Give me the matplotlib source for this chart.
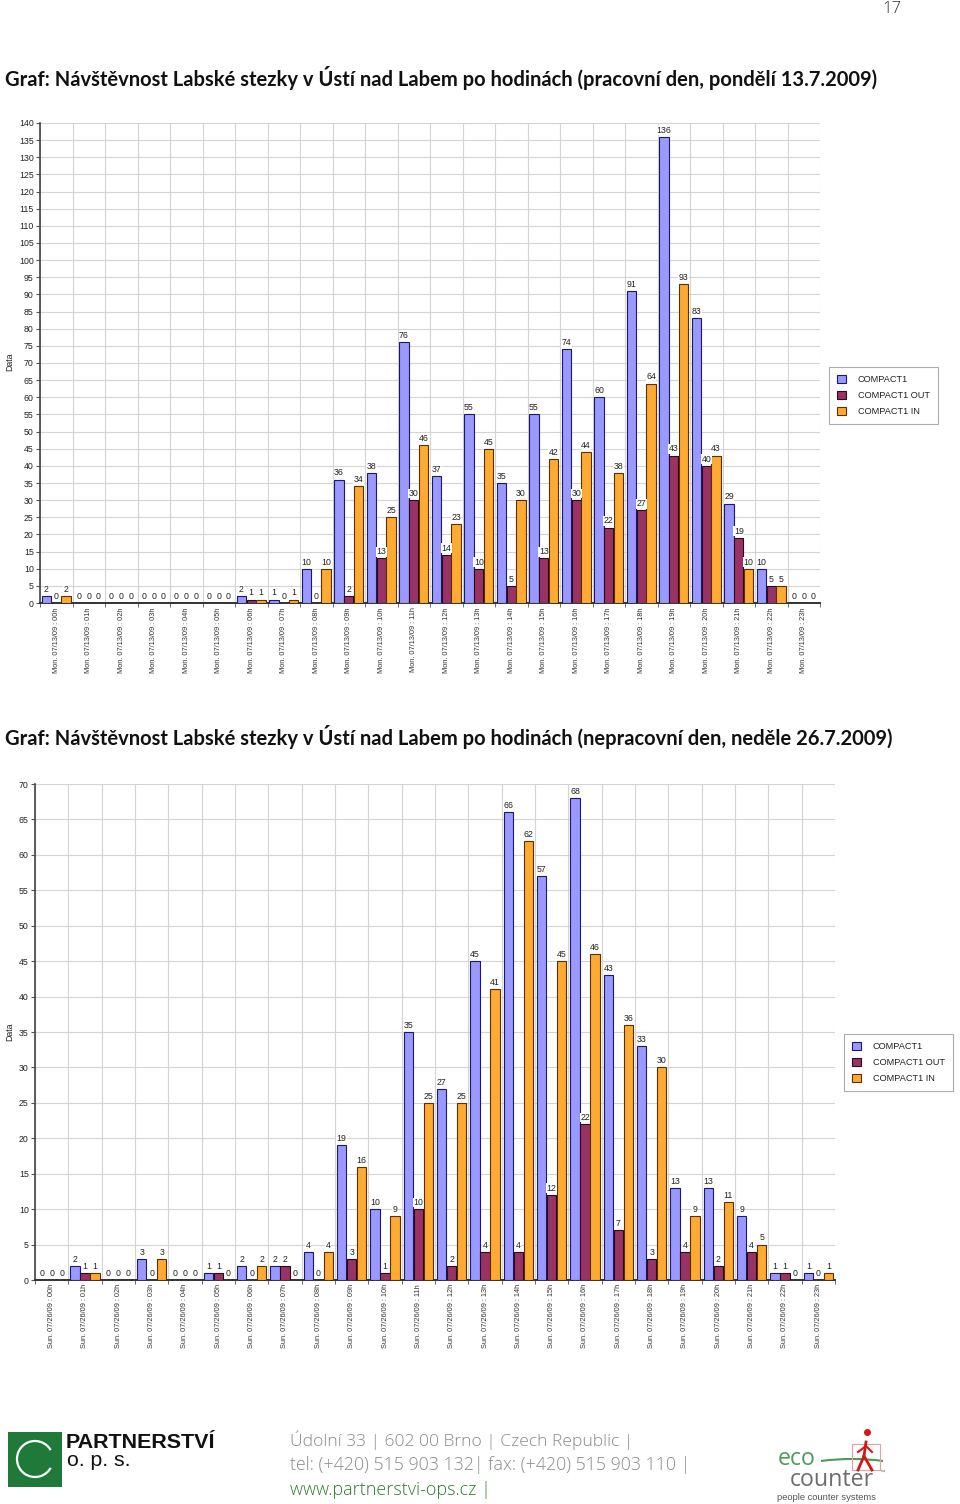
import matplotlib
matplotlib.use("Agg")
import matplotlib.pyplot as plt
from matplotlib.patches import Rectangle, Patch, Arc
from matplotlib.lines import Line2D
from matplotlib import font_manager
import numpy as np

W, H = 960, 1504

# --- data (COMPACT1 = total, OUT, IN) ---
hours = list(range(24))
mon_labels = ["Mon. 07/13/09 : %02dh" % h for h in hours]
sun_labels = ["Sun. 07/26/09 : %02dh" % h for h in hours]

mon_total = [2, 0, 0, 0, 0, 0, 2, 1, 10, 36, 38, 76, 37, 55, 35, 55, 74, 60, 91, 136, 83, 29, 10, 0]
mon_out = [0, 0, 0, 0, 0, 0, 1, 0, 0, 2, 13, 30, 14, 10, 5, 13, 30, 22, 27, 43, 40, 19, 5, 0]
mon_in = [2, 0, 0, 0, 0, 0, 1, 1, 10, 34, 25, 46, 23, 45, 30, 42, 44, 38, 64, 93, 43, 10, 5, 0]

sun_total = [0, 2, 0, 3, 0, 1, 2, 2, 4, 19, 10, 35, 27, 45, 66, 57, 68, 43, 33, 13, 13, 9, 1, 1]
sun_out = [0, 1, 0, 0, 0, 1, 0, 2, 0, 3, 1, 10, 2, 4, 4, 12, 22, 7, 3, 4, 2, 4, 1, 0]
sun_in = [0, 1, 0, 3, 0, 0, 2, 0, 4, 16, 9, 25, 25, 41, 62, 45, 46, 36, 30, 9, 11, 5, 0, 1]

series_names = ["COMPACT1", "COMPACT1 OUT", "COMPACT1 IN"]
title_mon = "Graf: Návštěvnost Labské stezky v Ústí nad Labem po hodinách (pracovní den, pondělí 13.7.2009)"
title_sun = "Graf: Návštěvnost Labské stezky v Ústí nad Labem po hodinách (nepracovní den, neděle 26.7.2009)"

colors = ["#9999ff", "#993366", "#ffaa33"]
edges = ["#1a1a66", "#2a0a18", "#5a3000"]

names = {f.name for f in font_manager.fontManager.ttflist}
chart_font = "Liberation Sans" if "Liberation Sans" in names else "DejaVu Sans"
title_font = "Lato" if "Lato" in names else "DejaVu Sans"
foot_font = "Open Sans" if "Open Sans" in names else "DejaVu Sans"
narrow_font = "Liberation Sans Narrow" if "Liberation Sans Narrow" in names else chart_font

plt.rcParams["font.family"] = [chart_font, "DejaVu Sans"]

fig = plt.figure(figsize=(W / 100, H / 100), dpi=100)
fig.patch.set_facecolor("white")


def fx(px):
    return px / W


def fy(py):
    return 1 - py / H


def draw_chart(ax, labels, series, ymax):
    x = np.arange(len(labels))
    label_pos = []
    for k, vals in enumerate(series):
        xs = x + (k - 1) * 0.3
        ax.bar(xs, vals, width=0.28, color=colors[k], edgecolor=edges[k],
               linewidth=0.8, zorder=3)
        label_pos.append((xs, vals))
    for xs, vals in label_pos:
        for xi, v in zip(xs, vals):
            ax.annotate(str(v), (xi, v), xytext=(0, 1.5), textcoords="offset points",
                        ha="center", va="bottom", fontsize=6.3, color="#222",
                        bbox=dict(facecolor="white", edgecolor="none", pad=0.3),
                        zorder=5, annotation_clip=False)
    ax.set_xlim(-0.5, len(labels) - 0.5)
    ax.set_ylim(0, ymax)
    ax.set_yticks(range(0, ymax + 1, 5))
    ax.set_xticks(x)
    ax.set_xticklabels(labels, rotation=90, fontsize=5.3, color="#333",
                       family=narrow_font)
    ax.set_xticks(np.arange(-0.5, len(labels), 1), minor=True)
    ax.tick_params(axis="x", which="major", length=0, pad=3)
    ax.tick_params(axis="x", which="minor", length=3, color="#555")
    ax.tick_params(axis="y", length=3, labelsize=6.3, color="#555", labelcolor="#222", pad=1.5)
    ax.grid(axis="y", which="major", color="#d4d4d4", linewidth=0.8, zorder=0)
    ax.grid(axis="x", which="minor", color="#d4d4d4", linewidth=0.8, zorder=0)
    for s in ("top", "right"):
        ax.spines[s].set_visible(False)
    ax.spines["left"].set_color("#444")
    ax.spines["bottom"].set_color("#333")
    ax.spines["left"].set_linewidth(1.2)
    ax.spines["bottom"].set_linewidth(1.4)
    ax.set_axisbelow(True)


def add_legend(left_px, top_px):
    handles = [Patch(facecolor=colors[k], edgecolor=edges[k], linewidth=0.8)
               for k in range(3)]
    leg = fig.legend(handles, series_names, loc="upper left",
                     bbox_to_anchor=(fx(left_px), fy(top_px)), frameon=True,
                     fancybox=False, edgecolor="#999", fontsize=6.6,
                     handlelength=1.0, handleheight=1.0, handletextpad=1.3,
                     labelspacing=0.75, borderpad=0.85, borderaxespad=0)
    leg.get_frame().set_linewidth(0.8)
    for t in leg.get_texts():
        t.set_color("#222")


ax1 = fig.add_axes([fx(40), fy(603), fx(780), 480 / H])
draw_chart(ax1, mon_labels, [mon_total, mon_out, mon_in], 140)
ax2 = fig.add_axes([fx(35), fy(1280), fx(800), 496 / H])
draw_chart(ax2, sun_labels, [sun_total, sun_out, sun_in], 70)

fig.text(fx(10), fy(362), "Data", rotation=90, fontsize=6.3, ha="center", va="center", color="#222")
fig.text(fx(10), fy(1032), "Data", rotation=90, fontsize=6.3, ha="center", va="center", color="#222")

add_legend(829, 367)
add_legend(844, 1034)

renderer = fig.canvas.get_renderer()


def fit(t, width_px):
    w = t.get_window_extent(renderer).width
    t.set_fontsize(t.get_fontsize() * width_px / w)


t1 = fig.text(fx(5), fy(78), title_mon, fontsize=14, fontweight="bold",
              family=[title_font, "DejaVu Sans"], va="center", color="#111")
fit(t1, 877)
t2 = fig.text(fx(5), fy(737), title_sun, fontsize=14, fontweight="bold",
              family=[title_font, "DejaVu Sans"], va="center", color="#111")
fit(t2, 893)

fig.text(fx(892), fy(9), "17", fontsize=12, family=[foot_font, "DejaVu Sans"],
         fontweight="light", ha="center", va="center", color="#333")

# --- footer ---
fig.add_artist(Rectangle((fx(8), fy(1487)), fx(54), 55 / H, transform=fig.transFigure,
                         facecolor="#1f7a3a", edgecolor="none"))
fig.add_artist(Arc((fx(35), fy(1459)), fx(36), 36 / H, theta1=20, theta2=340,
                   transform=fig.transFigure, color="white", linewidth=1.6))
p1 = fig.text(fx(66), fy(1442), "PARTNERSTVÍ", fontsize=20, fontweight="bold",
              family=[narrow_font, "DejaVu Sans"], va="center", color="#111")
fit(p1, 150)
p2 = fig.text(fx(67), fy(1461), "o. p. s.", fontsize=14, family=[chart_font, "DejaVu Sans"],
              va="center", color="#111")
fit(p2, 64)

a1 = fig.text(fx(290), fy(1440), "Údolní 33 | 602 00 Brno | Czech Republic |", fontsize=12,
              family=[foot_font, "DejaVu Sans"], fontweight="light", va="center", color="#8a8a8a")
fit(a1, 343)
a2 = fig.text(fx(290), fy(1465), "tel: (+420) 515 903 132| fax: (+420) 515 903 110 |", fontsize=12,
              family=[foot_font, "DejaVu Sans"], fontweight="light", va="center", color="#8a8a8a")
fit(a2, 400)
a3 = fig.text(fx(290), fy(1490), "www.partnerstvi-ops.cz |", fontsize=12,
              family=[foot_font, "DejaVu Sans"], fontweight="light", va="center", color="#2b7d2b")
fit(a3, 202)

# eco counter logo
fig.add_artist(Arc((fx(852), fy(1474)), fx(124), 30 / H, theta1=15, theta2=165,
                   transform=fig.transFigure, color="#4f9a5a", linewidth=1.5))
fig.add_artist(Rectangle((fx(852), fy(1470)), fx(28), 26 / H, transform=fig.transFigure,
                         facecolor="none", edgecolor="#e6a0a0", linewidth=0.8))
fig.add_artist(Line2D([fx(866), fx(864), fx(858)], [fy(1442), fy(1456), fy(1470)],
                      transform=fig.transFigure, color="#d01818", linewidth=2))
fig.add_artist(Line2D([fx(864), fx(872)], [fy(1456), fy(1470)],
                      transform=fig.transFigure, color="#d01818", linewidth=2))
fig.add_artist(Line2D([fx(858), fx(866), fx(872)], [fy(1452), fy(1446), fy(1452)],
                      transform=fig.transFigure, color="#d01818", linewidth=1.5))
fig.add_artist(Line2D([fx(867)], [fy(1432)], marker="o", markersize=4,
                      transform=fig.transFigure, color="#d01818"))
e1 = fig.text(fx(778), fy(1459), "eco", fontsize=16, family=[foot_font, "DejaVu Sans"],
              va="center", color="#4f9a5a")
fit(e1, 38)
e2 = fig.text(fx(790), fy(1480), "counter", fontsize=16, family=[foot_font, "DejaVu Sans"],
              va="center", color="#6d6d6d")
fit(e2, 84)
fig.text(fx(880), fy(1472), "™", fontsize=4, va="center", color="#6d6d6d")
e3 = fig.text(fx(777), fy(1498), "people counter systems", fontsize=5,
              family=[chart_font, "DejaVu Sans"], va="center", color="#555")
fit(e3, 101)

fig.savefig("out.png", dpi=100, facecolor="white")
